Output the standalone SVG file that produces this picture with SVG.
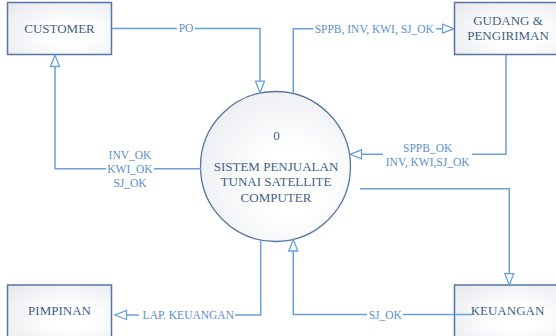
<svg xmlns="http://www.w3.org/2000/svg" width="556" height="336" viewBox="0 0 556 336">
<defs>
<radialGradient id="g" cx="0.6" cy="0.6" r="0.75">
<stop offset="0.3" stop-color="#ffffff"/>
<stop offset="1" stop-color="#e9ebf0"/>
</radialGradient>
<marker id="a" markerUnits="userSpaceOnUse" markerWidth="14" markerHeight="12" refX="11.5" refY="4.5" orient="auto" viewBox="-1 -1 14 12">
<path d="M0,0 L11.5,4.5 L0,9 Z" fill="#fff" stroke="#6a9fd8" stroke-width="1.3"/>
</marker>
<style>
.box{fill:url(#g);stroke:#56779e;stroke-width:1.5}
.ent{font-family:"Liberation Serif",serif;font-size:13px;fill:#3f5f85;text-anchor:middle}
.ln{fill:none;stroke:#6a9fd8;stroke-width:1.5}
.bg{fill:#fff}
.lb{font-family:"Liberation Serif",serif;font-size:11.5px;fill:#5a8fcc;text-anchor:middle}
</style>
</defs>
<g id="customer">
<rect class="box" x="7.5" y="2.5" width="104" height="52"/>
<text class="ent" x="59.5" y="33">CUSTOMER</text>
</g>
<g id="gudang">
<rect class="box" x="454.5" y="2.5" width="104" height="52"/>
<text class="ent" x="508" y="25">GUDANG &amp;</text>
<text class="ent" x="508" y="40.3">PENGIRIMAN</text>
</g>
<g id="proses">
<circle class="box" cx="275.5" cy="166.5" r="75" style="stroke-width:1.3"/>
<text class="ent" x="276.5" y="140">0</text>
<text class="ent" x="276" y="171">SISTEM PENJUALAN</text>
<text class="ent" x="276" y="186">TUNAI SATELLITE</text>
<text class="ent" x="276" y="201.6">COMPUTER</text>
</g>
<g id="keuangan">
<rect class="box" x="454.5" y="285" width="104" height="54"/>
<text class="ent" x="507.5" y="314.6">KEUANGAN</text>
</g>
<g id="pimpinan">
<rect class="box" x="7.5" y="285" width="104" height="54"/>
<text class="ent" x="59.5" y="315.3">PIMPINAN</text>
</g>
<g id="connectors">
<path class="ln" d="M112,28.5 H260 V92.7" marker-end="url(#a)"/>
<path class="ln" d="M293.3,93.6 V28.7 H454" marker-end="url(#a)"/>
<path class="ln" d="M506,55 V154.3 H350" marker-end="url(#a)"/>
<path class="ln" d="M360,188.7 H509.3 V285" marker-end="url(#a)"/>
<path class="ln" d="M472,314.5 H293.3 V239.5" marker-end="url(#a)"/>
<path class="ln" d="M260.7,241 V315 H115" marker-end="url(#a)"/>
<path class="ln" d="M201,168.7 H55 V55" marker-end="url(#a)"/>
<rect class="bg" x="177" y="23" width="18" height="11"/>
<rect class="bg" x="313" y="23" width="123" height="11"/>
<rect class="bg" x="383" y="150" width="89" height="9"/>
<rect class="bg" x="106" y="163" width="48" height="11"/>
<rect class="bg" x="139" y="309" width="96" height="11"/>
<rect class="bg" x="367" y="309" width="36" height="11"/>
<text class="lb" x="186" y="32.3">PO</text>
<text class="lb" x="374.3" y="32.5">SPPB, INV, KWI, SJ_OK</text>
<text class="lb" x="427.7" y="152">SPPB_OK</text>
<text class="lb" x="427.7" y="166">INV, KWI,SJ_OK</text>
<text class="lb" x="130" y="158.8">INV_OK</text>
<text class="lb" x="130" y="172.8">KWI_OK</text>
<text class="lb" x="130" y="186.5">SJ_OK</text>
<text class="lb" x="188.3" y="318.8">LAP. KEUANGAN</text>
<text class="lb" x="385.3" y="318.8">SJ_OK</text>
</g>
</svg>
